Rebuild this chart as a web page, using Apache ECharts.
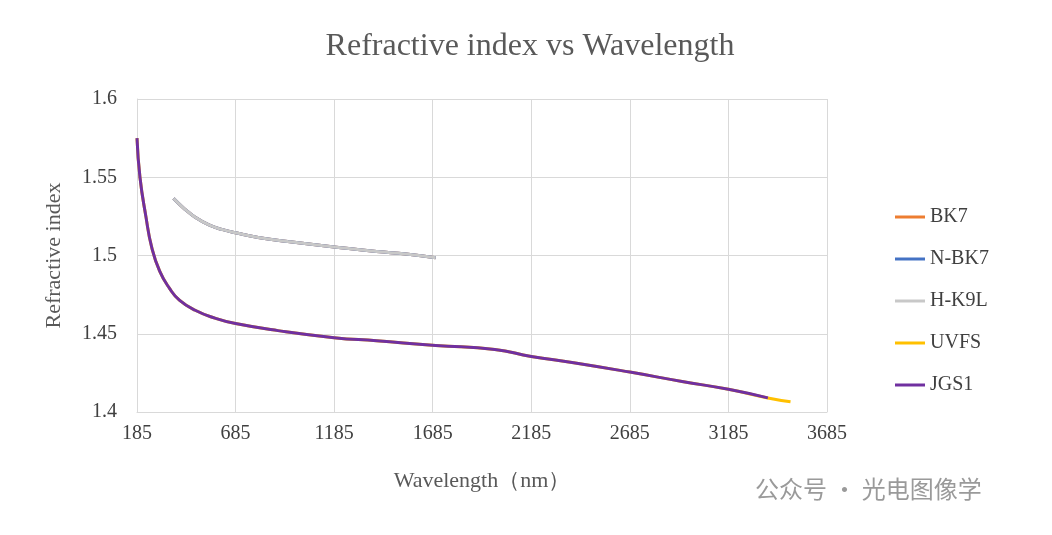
<!DOCTYPE html>
<html>
<head>
<meta charset="utf-8">
<script src="https://cdn.jsdelivr.net/npm/echarts@6/dist/echarts.min.js"></script>
<style>html,body{margin:0;padding:0;background:#fff}#main{width:1052px;height:535px}</style>
</head>
<body>
<div id="main"></div>
<script>
var glass = [[370, 1.5365], [420, 1.5305], [480, 1.5245], [550, 1.5195], [620, 1.5165], [685, 1.5145], [800, 1.5115], [950, 1.509], [1185, 1.5055], [1400, 1.5025], [1550, 1.501], [1700, 1.4985]];
var silica = [[185, 1.575], [200, 1.55], [230, 1.525], [260, 1.505], [300, 1.49], [350, 1.479], [400, 1.4715], [480, 1.465], [580, 1.46], [685, 1.4565], [900, 1.452], [1185, 1.4475], [1400, 1.4455], [1700, 1.4425], [2000, 1.44], [2185, 1.4355], [2400, 1.4315], [2685, 1.4255], [2950, 1.4195], [3185, 1.4145], [3385, 1.409]];
var uvfs = silica.concat([[3500, 1.4065]]);

function line(name, data, color) {
  return { name: name, type: 'line', data: data, showSymbol: false, smooth: true,
    lineStyle: { color: color, width: 3 }, itemStyle: { color: color } };
}

var option = {
  backgroundColor: '#fff',
  textStyle: { fontFamily: 'Liberation Serif' },
  title: { text: 'Refractive index vs Wavelength', left: 525, top: 26, textAlign: 'center',
    textStyle: { fontFamily: 'Liberation Serif', fontSize: 32, fontWeight: 'normal', color: '#595959' } },
  legend: { orient: 'vertical', left: 890, top: 202, itemGap: 22, itemWidth: 30, itemHeight: 3,
    icon: 'rect', textStyle: { fontSize: 20, color: '#404040', fontFamily: 'Liberation Serif' },
    data: ['BK7', 'N-BK7', 'H-K9L', 'UVFS', 'JGS1'] },
  grid: { left: 137, right: 225, top: 99, bottom: 123 },
  xAxis: { type: 'value', min: 185, max: 3685, interval: 500,
    name: 'Wavelength（nm）', nameLocation: 'middle', nameGap: 58,
    nameTextStyle: { fontSize: 22, color: '#595959', fontFamily: 'Liberation Serif' },
    axisLine: { lineStyle: { color: '#d9d9d9' } }, axisTick: { show: false },
    axisLabel: { fontSize: 20, color: '#404040', margin: 12, formatter: function (v) { return String(v); } },
    splitLine: { lineStyle: { color: '#d9d9d9' } } },
  yAxis: { type: 'value', min: 1.4, max: 1.6, interval: 0.05,
    name: 'Refractive index', nameLocation: 'middle', nameGap: 72,
    nameTextStyle: { fontSize: 22, color: '#595959', fontFamily: 'Liberation Serif' },
    axisLine: { show: true, lineStyle: { color: '#d9d9d9' } }, axisTick: { show: false },
    axisLabel: { fontSize: 20, color: '#404040', margin: 20 },
    splitLine: { lineStyle: { color: '#d9d9d9' } } },
  graphic: [{ type: 'text', left: 755, top: 477,
    style: { text: '公众号 · 光电图像学', fontSize: 24, fill: '#9a9a9a', fontFamily: 'Noto Sans CJK SC' } }],
  series: [
    line('BK7', glass, '#ED7D31'),
    line('N-BK7', glass, '#4472C4'),
    line('H-K9L', glass, '#C8C8C8'),
    line('UVFS', uvfs, '#FFC000'),
    line('JGS1', silica, '#7030A0')
  ]
};

var myChart = echarts.init(document.getElementById('main'));
option && myChart.setOption(option);
</script>
</body>
</html>
